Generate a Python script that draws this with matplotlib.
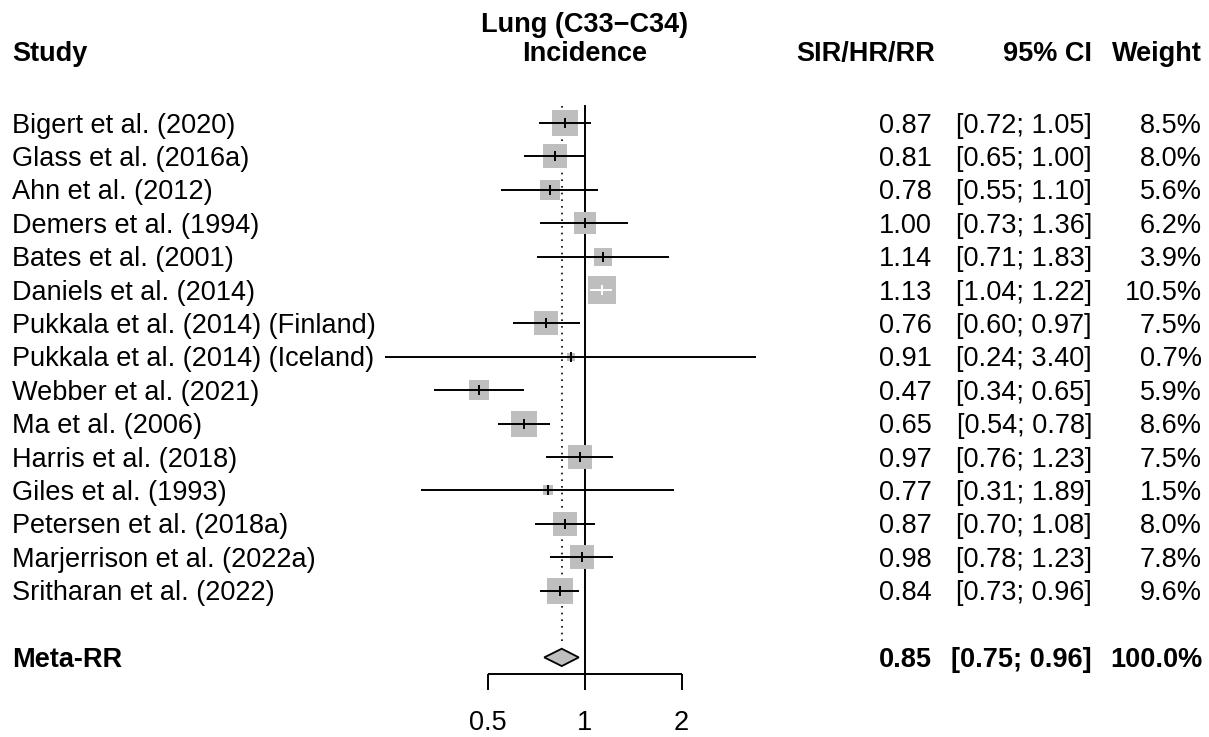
import matplotlib
matplotlib.use("Agg")
import matplotlib.pyplot as plt
import numpy as np

plt.rcParams['font.family'] = ['Liberation Sans', 'DejaVu Sans']

# dados do forest plot
studies = ["Bigert et al. (2020)", "Glass et al. (2016a)", "Ahn et al. (2012)",
           "Demers et al. (1994)", "Bates et al. (2001)", "Daniels et al. (2014)",
           "Pukkala et al. (2014) (Finland)", "Pukkala et al. (2014) (Iceland)",
           "Webber et al. (2021)", "Ma et al. (2006)", "Harris et al. (2018)",
           "Giles et al. (1993)", "Petersen et al. (2018a)",
           "Marjerrison et al. (2022a)", "Sritharan et al. (2022)"]
est = [0.87, 0.81, 0.78, 1.00, 1.14, 1.13, 0.76, 0.91, 0.47, 0.65, 0.97, 0.77, 0.87, 0.98, 0.84]
lower = [0.72, 0.65, 0.55, 0.73, 0.71, 1.04, 0.60, 0.24, 0.34, 0.54, 0.76, 0.31, 0.70, 0.78, 0.73]
upper = [1.05, 1.00, 1.10, 1.36, 1.83, 1.22, 0.97, 3.40, 0.65, 0.78, 1.23, 1.89, 1.08, 1.23, 0.96]
weights = [8.5, 8.0, 5.6, 6.2, 3.9, 10.5, 7.5, 0.7, 5.9, 8.6, 7.5, 1.5, 8.0, 7.8, 9.6]

meta_label = "Meta-RR"
meta_est, meta_lo, meta_hi = 0.85, 0.75, 0.96

xticks = [0.5, 1, 2]
xtick_labels = ["0.5", "1", "2"]

W, H = 1209, 737
fig = plt.figure(figsize=(W / 100, H / 100), dpi=100)
ax = fig.add_axes([0, 0, 1, 1])
ax.set_xscale('log', base=2)

# escala: x=1 em 584.5 px, 97 px por duplicacao; linhas a cada 33.4 px, a primeira em 123 px
x0, ppd = 584.5, 97.0
y0, rowh = 123.0, 33.4
ax.set_xlim(2 ** (-x0 / ppd), 2 ** ((W - x0) / ppd))
ax.set_ylim((H - y0) / rowh, -y0 / rowh)
ax.axis('off')

fs = 19.5
grey = '#BEBEBE'
tr = ax.get_yaxis_transform()  # x em fracao do eixo, y em linhas

def px(xp):
    return xp / W

# cabecalho
ax.text(1.0, -2.72, "Lung (C33\u2212C34)", ha='center', va='baseline', fontsize=fs, fontweight='bold')
ax.text(1.0, -1.87, "Incidence", ha='center', va='baseline', fontsize=fs, fontweight='bold')
ax.text(px(12), -1.87, "Study", ha='left', va='baseline', fontsize=fs, fontweight='bold', transform=tr)
ax.text(px(935), -1.87, "SIR/HR/RR", ha='right', va='baseline', fontsize=fs, fontweight='bold', transform=tr)
ax.text(px(1092), -1.87, "95% CI", ha='right', va='baseline', fontsize=fs, fontweight='bold', transform=tr)
ax.text(px(1202), -1.87, "Weight", ha='right', va='baseline', fontsize=fs, fontweight='bold', transform=tr)

n = len(studies)
rows = np.arange(n)
meta_row = n + 1

# linhas de referencia
ax.plot([1, 1], [-0.5, n + 1.5], color='black', lw=1.4, zorder=1)
ax.plot([meta_est, meta_est], [-0.5, n + 0.63], color='black', lw=1.2, ls=(0, (1, 3)), zorder=1)

max_side = 28.0
for i in range(n):
    r = rows[i]
    side = max_side * np.sqrt(weights[i] / max(weights))
    ax.scatter([est[i]], [r], marker='s', s=(side * 0.72) ** 2, color=grey, linewidths=0, zorder=2)
    # IC dentro do quadrado -> branco
    half = side / 2 / ppd
    inside = np.log2(lower[i]) >= np.log2(est[i]) - half and np.log2(upper[i]) <= np.log2(est[i]) + half
    c = 'white' if inside else 'black'
    ax.plot([lower[i], upper[i]], [r, r], color=c, lw=1.4, zorder=3, solid_capstyle='butt')
    ax.plot([est[i], est[i]], [r - 0.15, r + 0.15], color=c, lw=1.4, zorder=3, solid_capstyle='butt')

    ax.text(px(12), r + 0.29, studies[i], ha='left', va='baseline', fontsize=fs, transform=tr)
    ax.text(px(932), r + 0.29, "%.2f" % est[i], ha='right', va='baseline', fontsize=fs, transform=tr)
    ax.text(px(1092), r + 0.29, "[%.2f; %.2f]" % (lower[i], upper[i]), ha='right', va='baseline', fontsize=fs, transform=tr)
    ax.text(px(1202), r + 0.29, "%.1f%%" % weights[i], ha='right', va='baseline', fontsize=fs, transform=tr)

# diamante
dh = 0.26
ax.fill([meta_lo, meta_est, meta_hi, meta_est, meta_lo],
        [meta_row, meta_row - dh, meta_row, meta_row + dh, meta_row],
        facecolor=grey, edgecolor='black', lw=1.3, zorder=3)
ax.text(px(12), meta_row + 0.29, meta_label, ha='left', va='baseline', fontsize=fs, fontweight='bold', transform=tr)
ax.text(px(932), meta_row + 0.29, "%.2f" % meta_est, ha='right', va='baseline', fontsize=fs, fontweight='bold', transform=tr)
ax.text(px(1092), meta_row + 0.29, "[%.2f; %.2f]" % (meta_lo, meta_hi), ha='right', va='baseline', fontsize=fs, fontweight='bold', transform=tr)
ax.text(px(1202), meta_row + 0.29, "100.0%", ha='right', va='baseline', fontsize=fs, fontweight='bold', transform=tr)

# eixo x
axis_row = n + 1.5
ax.plot([xticks[0], xticks[-1]], [axis_row, axis_row], color='black', lw=1.4, solid_capstyle='butt')
for t, lab in zip(xticks, xtick_labels):
    ax.plot([t, t], [axis_row, axis_row + 0.48], color='black', lw=1.4, solid_capstyle='butt')
    ax.text(t, axis_row + 1.68, lab, ha='center', va='baseline', fontsize=fs)

fig.savefig("out.png", dpi=100, facecolor='white')
